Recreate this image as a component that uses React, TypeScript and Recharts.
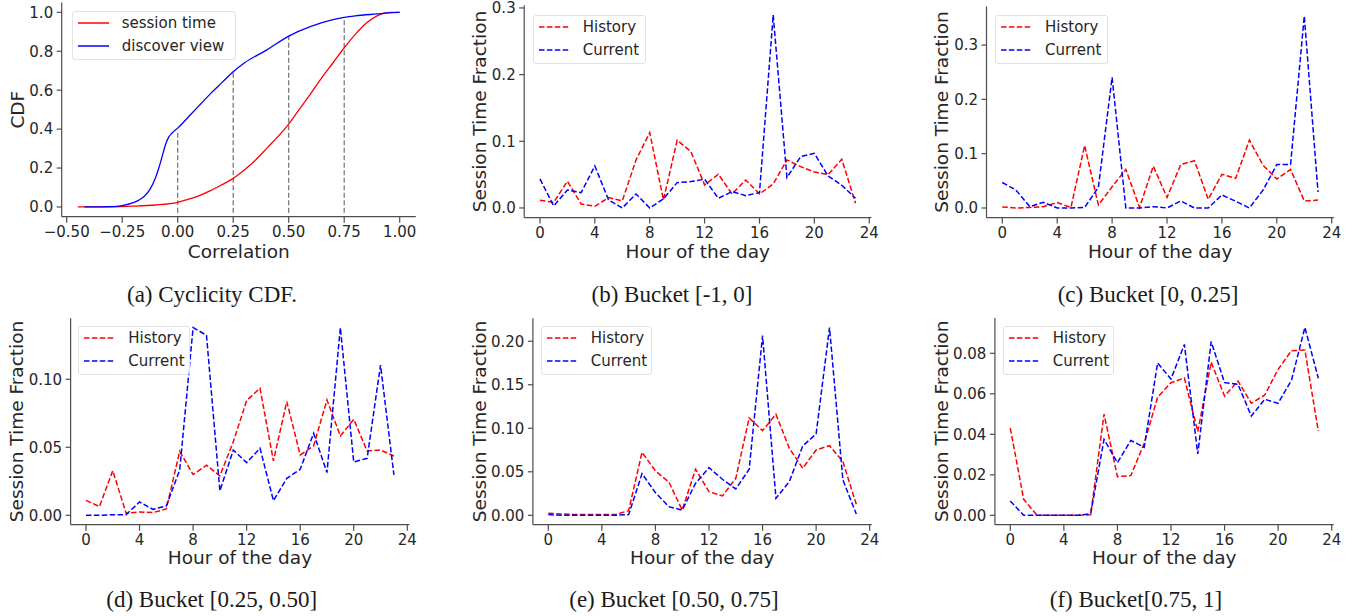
import React from 'react';
import { LineChart, Line, XAxis, YAxis, ReferenceLine, Legend } from 'recharts';

// ---------- Data ----------
const hours = [0, 1, 2, 3, 4, 5, 6, 7, 8, 9, 10, 11, 12, 13, 14, 15, 16, 17, 18, 19, 20, 21, 22, 23];
const hourTicks = [0, 4, 8, 12, 16, 20, 24];

// (a) Cyclicity CDF
const sessionX = [-0.45, -0.3, -0.2, -0.1, 0, 0.05, 0.1, 0.15, 0.2, 0.25, 0.3, 0.35, 0.4, 0.45, 0.5, 0.55, 0.6, 0.65, 0.7, 0.75, 0.8, 0.85, 0.9, 0.93, 0.96, 1.0];
const sessionY = [0, 0.001, 0.004, 0.01, 0.024, 0.04, 0.06, 0.085, 0.115, 0.147, 0.19, 0.24, 0.3, 0.36, 0.426, 0.505, 0.584, 0.666, 0.741, 0.818, 0.887, 0.945, 0.983, 0.996, 1.0, 1.0];
const discoverX = [-0.42, -0.3, -0.25, -0.2, -0.175, -0.15, -0.125, -0.1, -0.085, -0.07, -0.055, -0.04, -0.025, 0, 0.05, 0.1, 0.15, 0.2, 0.25, 0.3, 0.4, 0.5, 0.6, 0.7, 0.75, 0.8, 0.9, 0.95, 1.0];
const discoverY = [0, 0.002, 0.007, 0.022, 0.035, 0.055, 0.09, 0.15, 0.2, 0.26, 0.32, 0.36, 0.38, 0.405, 0.465, 0.525, 0.585, 0.64, 0.695, 0.74, 0.806, 0.878, 0.928, 0.962, 0.974, 0.982, 0.992, 0.997, 1.0];
const markX = [0, 0.25, 0.5, 0.75];
const markY = [0.395, 0.695, 0.878, 0.974];

// (b) Bucket [-1, 0]
const bHistory = [0.0115, 0.0085, 0.04, 0.006, 0.0025, 0.0155, 0.0105, 0.072, 0.113, 0.012, 0.1015, 0.0845, 0.0345, 0.0505, 0.021, 0.042, 0.021, 0.036, 0.072, 0.062, 0.054, 0.05, 0.073, 0.007];
const bCurrent = [0.0435, 0.003, 0.027, 0.023, 0.063, 0.012, 0.0, 0.021, 0.0, 0.0135, 0.038, 0.0395, 0.043, 0.0145, 0.0245, 0.0185, 0.023, 0.2895, 0.0455, 0.077, 0.082, 0.048, 0.034, 0.0145];

// (c) Bucket [0, 0.25]
const cHistory = [0.002, 0.0, 0.001, 0.0025, 0.01, 0.001, 0.115, 0.0055, 0.039, 0.071, 0.001, 0.077, 0.0195, 0.08, 0.087, 0.016, 0.062, 0.0545, 0.125, 0.0785, 0.0535, 0.071, 0.013, 0.0145];
const cCurrent = [0.047, 0.033, 0.0025, 0.0105, 0.0, 0.0, 0.001, 0.038, 0.2405, 0.0, 0.0, 0.0025, 0.0, 0.013, 0.0, 0.0, 0.024, 0.0125, 0.0, 0.033, 0.08, 0.08, 0.3535, 0.0295];

// (d) Bucket [0.25, 0.50]
const dHistory = [0.011, 0.0064, 0.0328, 0.0015, 0.0025, 0.002, 0.0047, 0.047, 0.03, 0.0368, 0.029, 0.054, 0.0843, 0.0934, 0.04, 0.0836, 0.0444, 0.051, 0.0848, 0.0583, 0.0706, 0.0473, 0.048, 0.0436];
const dCurrent = [0.0, 0.0, 0.0005, 0.0005, 0.0098, 0.0044, 0.0069, 0.0333, 0.138, 0.1324, 0.018, 0.048, 0.0387, 0.0493, 0.0108, 0.0272, 0.0338, 0.0603, 0.0314, 0.138, 0.0392, 0.0419, 0.1105, 0.0297];

// (e) Bucket [0.50, 0.75]
const eHistory = [0.0023, 0.0015, 0.0008, 0.0008, 0.0008, 0.0008, 0.0054, 0.0724, 0.051, 0.0383, 0.006, 0.0529, 0.0272, 0.0222, 0.0425, 0.1119, 0.0973, 0.1161, 0.077, 0.054, 0.0751, 0.08, 0.0617, 0.0126];
const eCurrent = [0.0008, 0.0, 0.0, 0.0, 0.0, 0.0, 0.0008, 0.0479, 0.026, 0.01, 0.006, 0.0368, 0.0548, 0.0414, 0.0303, 0.0529, 0.2065, 0.0195, 0.0387, 0.0797, 0.0935, 0.2157, 0.0406, 0.0015];

// (f) Bucket[0.75, 1]
const fHistory = [0.043, 0.0079, 0.0, 0.0, 0.0, 0.0, 0.0003, 0.05, 0.0191, 0.0196, 0.0356, 0.0583, 0.0655, 0.0678, 0.0413, 0.0756, 0.0589, 0.0663, 0.0553, 0.0594, 0.0721, 0.0813, 0.0816, 0.0416];
const fCurrent = [0.0071, 0.0, 0.0, 0.0, 0.0, 0.0, 0.0007, 0.0375, 0.026, 0.037, 0.0336, 0.0752, 0.0673, 0.0844, 0.0303, 0.0858, 0.0655, 0.0647, 0.049, 0.0573, 0.0553, 0.0668, 0.0928, 0.0677];

const captions = ['(a) Cyclicity CDF.', '(b) Bucket [-1, 0]', '(c) Bucket [0, 0.25]', '(d) Bucket [0.25, 0.50]', '(e) Bucket [0.50, 0.75]', '(f) Bucket[0.75, 1]'];

// ---------- Styles ----------
const FONT = "'DejaVu Sans', Verdana, sans-serif";
const SERIF = "'Liberation Serif', 'Times New Roman', serif";
const TEXT = '#262626';
const SPINE = '#4d4d4d';
const RED = '#ff0000';
const BLUE = '#0000ff';
const DASH = '5.5 2.4';

const zipXY = (xs: number[], ys: number[]) => xs.map((x, i) => ({ x, y: ys[i] }));
const hourData = (h: number[], c: number[]) => hours.map((x, i) => ({ x, history: h[i], current: c[i] }));

const fmt = (d: number) => (v: number) => (v < 0 ? '\u2212' : '') + Math.abs(v).toFixed(d);

function LegendBox({ items, width }: { items: any[]; width: number }) {
  return (
    <div
      style={{
        width,
        boxSizing: 'border-box',
        border: '1px solid #e2e2e2',
        borderRadius: 3,
        background: 'rgba(255,255,255,0.8)',
        padding: '0 0 1px 5px',
      }}
    >
      {items.map((it) => (
        <div key={it.name} style={{ display: 'flex', alignItems: 'center', height: 23.3 }}>
          <svg width={31} height={6} style={{ display: 'block' }}>
            <line x1={0} y1={3} x2={31} y2={3} stroke={it.color} strokeWidth={1.5} strokeDasharray={it.dash} />
          </svg>
          <span
            style={{
              marginLeft: 13,
              fontSize: 15,
              lineHeight: '15px',
              fontFamily: FONT,
              color: TEXT,
              whiteSpace: 'nowrap',
            }}
          >
            {it.name}
          </span>
        </div>
      ))}
    </div>
  );
}

function Panel(p: any) {
  const yw = 50;
  const xh = 40;
  const margin = {
    left: p.plotLeft - yw,
    right: p.w - p.plotRight,
    top: p.plotTop,
    bottom: p.h - p.plotBottom - xh,
  };
  const bx = p.plotLeft - p.yLabelGap;
  const cy = (p.plotTop + p.plotBottom) / 2;
  return (
    <div style={{ position: 'absolute', left: p.x, top: p.y, width: p.w, height: p.h }}>
      <LineChart width={p.w} height={p.h} margin={margin} data={p.data}>
        <XAxis
          type="number"
          dataKey="x"
          domain={p.xDomain}
          ticks={p.xTicks}
          tickFormatter={p.xFmt}
          interval={0}
          allowDataOverflow
          height={xh}
          axisLine={{ stroke: SPINE, strokeWidth: 1.2 }}
          tickLine={{ stroke: SPINE, strokeWidth: 1.2 }}
          tickSize={6}
          tickMargin={4}
          tick={{ fill: TEXT, fontSize: 15, fontFamily: FONT }}
          label={() => (
            <text
              x={(p.plotLeft + p.plotRight) / 2}
              y={p.plotBottom + p.xLabelGap}
              textAnchor="middle"
              fontSize={18.5}
              fontFamily={FONT}
              fill={TEXT}
            >
              {p.xLabel}
            </text>
          )}
        />
        <YAxis
          type="number"
          domain={p.yDomain}
          ticks={p.yTicks}
          tickFormatter={p.yFmt}
          interval={0}
          allowDataOverflow
          width={yw}
          axisLine={{ stroke: SPINE, strokeWidth: 1.2 }}
          tickLine={{ stroke: SPINE, strokeWidth: 1.2 }}
          tickSize={5}
          tickMargin={3.5}
          tick={{ fill: TEXT, fontSize: 15, fontFamily: FONT }}
          label={() => (
            <text
              x={bx}
              y={cy}
              transform={`rotate(-90 ${bx} ${cy})`}
              textAnchor="middle"
              fontSize={18.5}
              fontFamily={FONT}
              fill={TEXT}
            >
              {p.yLabel}
            </text>
          )}
        />
        {(p.refs || []).map((r: any, i: number) => (
          <ReferenceLine
            key={'r' + i}
            segment={[{ x: r.x, y: r.y0 }, { x: r.x, y: r.y1 }]}
            stroke="#707070"
            strokeWidth={1.2}
            strokeDasharray="5 2.5"
          />
        ))}
        {p.series.map((s: any) => (
          <Line
            key={s.name}
            name={s.name}
            data={s.data}
            dataKey={s.key}
            type={s.type}
            stroke={s.color}
            strokeWidth={s.width}
            strokeDasharray={s.dash}
            dot={false}
            activeDot={false}
            isAnimationActive={false}
          />
        ))}
        <Legend
          layout="vertical"
          align="center"
          verticalAlign="middle"
          wrapperStyle={{ left: p.legendX, top: p.legendY, width: 'auto', height: 'auto' }}
          content={() => <LegendBox items={p.series} width={p.legendW} />}
        />
      </LineChart>
    </div>
  );
}

function hourSeries(h: number[], c: number[]) {
  return {
    data: hourData(h, c),
    series: [
      { name: 'History', key: 'history', color: RED, dash: DASH, width: 1.5, type: 'linear' },
      { name: 'Current', key: 'current', color: BLUE, dash: DASH, width: 1.5, type: 'linear' },
    ],
  };
}

const hourCommon = {
  xDomain: [-1.15, 24.15],
  xTicks: hourTicks,
  xFmt: (v: number) => String(v),
  xLabel: 'Hour of the day',
  yLabel: 'Session Time Fraction',
};

const panels: any[] = [
  {
    x: 0, y: 0, w: 440, h: 270,
    plotLeft: 61.7, plotRight: 415.8, plotTop: 2.6, plotBottom: 216.7,
    xDomain: [-0.5225, 1.0725], xTicks: [-0.5, -0.25, 0, 0.25, 0.5, 0.75, 1.0], xFmt: fmt(2),
    yDomain: [-0.05, 1.05], yTicks: [0, 0.2, 0.4, 0.6, 0.8, 1.0], yFmt: fmt(1),
    xLabel: 'Correlation', yLabel: 'CDF', xLabelGap: 41.6, yLabelGap: 37.7,
    legendX: 71.7, legendY: 10.5, legendW: 164,
    refs: markX.map((x, i) => ({ x, y0: -0.03, y1: markY[i] })),
    series: [
      { name: 'session time', key: 'y', data: zipXY(sessionX, sessionY), color: RED, dash: undefined, width: 1.3, type: 'monotone' },
      { name: 'discover view', key: 'y', data: zipXY(discoverX, discoverY), color: BLUE, dash: undefined, width: 1.3, type: 'monotone' },
    ],
  },
  {
    ...hourCommon, ...hourSeries(bHistory, bCurrent),
    x: 440, y: 0, w: 460, h: 270,
    plotLeft: 84.2, plotRight: 431.3, plotTop: 5.3, plotBottom: 217.6,
    yDomain: [-0.01448, 0.30398], yTicks: [0, 0.1, 0.2, 0.3], yFmt: fmt(1),
    xLabelGap: 40, yLabelGap: 38.6,
    legendX: 92.7, legendY: 14.5, legendW: 113,
  },
  {
    ...hourCommon, ...hourSeries(cHistory, cCurrent),
    x: 900, y: 0, w: 454, h: 270,
    plotLeft: 86.5, plotRight: 433.8, plotTop: 6.4, plotBottom: 217.6,
    yDomain: [-0.01768, 0.37118], yTicks: [0, 0.1, 0.2, 0.3], yFmt: fmt(1),
    xLabelGap: 40, yLabelGap: 38.2,
    legendX: 95, legendY: 14.5, legendW: 113,
  },
  {
    ...hourCommon, ...hourSeries(dHistory, dCurrent),
    x: 0, y: 310, w: 450, h: 306,
    plotLeft: 70.6, plotRight: 409.3, plotTop: 8.2, plotBottom: 214.7,
    yDomain: [-0.0069, 0.1449], yTicks: [0, 0.05, 0.1], yFmt: fmt(2),
    xLabelGap: 39.6, yLabelGap: 47.3,
    legendX: 78.3, legendY: 15.5, legendW: 112,
  },
  {
    ...hourCommon, ...hourSeries(eHistory, eCurrent),
    x: 450, y: 310, w: 450, h: 306,
    plotLeft: 82.9, plotRight: 421.7, plotTop: 8.2, plotBottom: 214.7,
    yDomain: [-0.010785, 0.226485], yTicks: [0, 0.05, 0.1, 0.15, 0.2], yFmt: fmt(2),
    xLabelGap: 39.6, yLabelGap: 47.2,
    legendX: 90.7, legendY: 15.5, legendW: 111,
  },
  {
    ...hourCommon, ...hourSeries(fHistory, fCurrent),
    x: 900, y: 310, w: 454, h: 306,
    plotLeft: 94.9, plotRight: 433.7, plotTop: 8, plotBottom: 214.7,
    yDomain: [-0.00464, 0.09744], yTicks: [0, 0.02, 0.04, 0.06, 0.08], yFmt: fmt(2),
    xLabelGap: 39.6, yLabelGap: 47.2,
    legendX: 102.7, legendY: 15.5, legendW: 111,
  },
];

const captionPos = [
  { cx: 212, base: 302.7 },
  { cx: 672, base: 302.7 },
  { cx: 1148, base: 302.7 },
  { cx: 211.7, base: 607.7 },
  { cx: 674, base: 607.7 },
  { cx: 1136, base: 607.7 },
];

export default function App() {
  return (
    <div
      style={{
        position: 'absolute',
        left: 0,
        top: 0,
        width: 1354,
        height: 616,
        background: '#ffffff',
        overflow: 'hidden',
      }}
    >
      {panels.map((p, i) => (
        <Panel key={i} {...p} />
      ))}
      {captions.map((c, i) => (
        <div
          key={c}
          style={{
            position: 'absolute',
            left: captionPos[i].cx - 250,
            width: 500,
            top: captionPos[i].base - 19.3,
            textAlign: 'center',
            fontFamily: SERIF,
            fontSize: 23,
            lineHeight: '23px',
            color: '#1a1a1a',
            whiteSpace: 'nowrap',
          }}
        >
          {c}
        </div>
      ))}
    </div>
  );
}
